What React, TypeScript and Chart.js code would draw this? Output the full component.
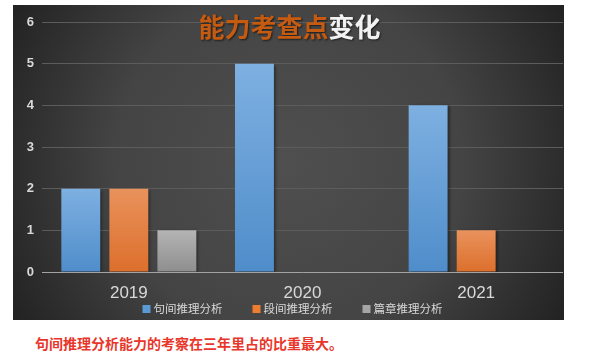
import React, { useEffect, useRef } from "react";
import { Chart, registerables } from "chart.js";

Chart.register(...registerables);

const categories = ["2019", "2020", "2021"];
const seriesNames = ["句间推理分析", "段间推理分析", "篇章推理分析"];
const sentenceValues = [2, 5, 4];
const paragraphValues = [2, null, 1];
const chapterValues = [1, null, null];
const yTicks = [0, 1, 2, 3, 4, 5, 6];
const titleOrange = "能力考查点";
const titleWhite = "变化";
const caption = "句间推理分析能力的考察在三年里占的比重最大。";

const solidColors = ["#5b9bd5", "#ed7d31", "#a5a5a5"];
const gradTop = ["#7eb0e1", "#e9925c", "#b4b4b4"];
const gradBottom = ["#4f8dca", "#dc6f2c", "#8e8e8e"];

const LATIN = "'Liberation Sans', 'Noto Sans CJK SC', sans-serif";
const CJK = "'Noto Sans CJK SC', 'Liberation Sans', sans-serif";

function barGradient(i: number) {
  return (ctx: any) => {
    const chart = ctx.chart;
    const ys = chart.scales && chart.scales.y;
    if (!ys || ctx.raw == null || !chart.chartArea) return solidColors[i];
    const top = ys.getPixelForValue(ctx.raw);
    const bottom = ys.getPixelForValue(0);
    if (!isFinite(top) || !isFinite(bottom) || top === bottom) return solidColors[i];
    const g = chart.ctx.createLinearGradient(0, top, 0, bottom);
    g.addColorStop(0, gradTop[i]);
    g.addColorStop(1, gradBottom[i]);
    return g;
  };
}

const bgPlugin = {
  id: "bgPlugin",
  beforeDraw(chart: any) {
    const { ctx, width, height } = chart;
    ctx.save();
    const cx = width * 0.5;
    const cy = height * 0.5;
    const r = Math.sqrt(cx * cx + cy * cy);
    const g = ctx.createRadialGradient(cx, cy, 0, cx, cy, r);
    g.addColorStop(0, "#4f4f4f");
    g.addColorStop(0.55, "#444444");
    g.addColorStop(1, "#222222");
    ctx.fillStyle = g;
    ctx.fillRect(0, 0, width, height);
    ctx.restore();
  },
};

const shadowPlugin = {
  id: "shadowPlugin",
  beforeDatasetsDraw(chart: any) {
    const ctx = chart.ctx;
    ctx.save();
    ctx.shadowColor = "rgba(0,0,0,0.45)";
    ctx.shadowBlur = 3;
    ctx.shadowOffsetX = 2;
    ctx.shadowOffsetY = 1;
  },
  afterDatasetsDraw(chart: any) {
    chart.ctx.restore();
  },
};

const overlayPlugin = {
  id: "overlayPlugin",
  afterDraw(chart: any) {
    const { ctx, width, chartArea } = chart;
    // title
    ctx.save();
    ctx.font = `bold 26px ${CJK}`;
    ctx.textBaseline = "middle";
    ctx.textAlign = "left";
    const w1 = ctx.measureText(titleOrange).width;
    const w2 = ctx.measureText(titleWhite).width;
    let x = width / 2 + 1 - (w1 + w2) / 2;
    const y = 22;
    ctx.shadowColor = "rgba(0,0,0,0.6)";
    ctx.shadowBlur = 2;
    ctx.shadowOffsetX = 1;
    ctx.shadowOffsetY = 1;
    ctx.fillStyle = "#c55a11";
    ctx.fillText(titleOrange, x, y);
    ctx.fillStyle = "#f2f2f2";
    ctx.fillText(titleWhite, x + w1, y);
    ctx.restore();

    // legend
    ctx.save();
    ctx.font = `11.5px ${CJK}`;
    ctx.textBaseline = "middle";
    ctx.textAlign = "left";
    const box = 8;
    const gapText = 3;
    const gapItem = 30;
    const datasets = chart.data.datasets;
    const widths = datasets.map((d: any) => box + gapText + ctx.measureText(d.label).width);
    const total = widths.reduce((a: number, b: number) => a + b, 0) + gapItem * (datasets.length - 1);
    const center = (chartArea.left + chartArea.right) / 2 - 10;
    let lx = center - total / 2;
    const ly = 304;
    datasets.forEach((d: any, i: number) => {
      ctx.fillStyle = solidColors[i];
      ctx.fillRect(lx, ly - 4, box, box);
      ctx.fillStyle = "#d9d9d9";
      ctx.fillText(d.label, lx + box + gapText, ly);
      lx += widths[i] + gapItem;
    });
    ctx.restore();
  },
};

export default function App() {
  const canvasRef = useRef<HTMLCanvasElement | null>(null);

  useEffect(() => {
    if (!canvasRef.current) return;
    const valuesList = [sentenceValues, paragraphValues, chapterValues];
    const chart = new Chart(canvasRef.current, {
      type: "bar",
      data: {
        labels: categories,
        datasets: valuesList.map((vals, i) => ({
          label: seriesNames[i],
          data: vals,
          backgroundColor: barGradient(i),
          borderWidth: 0,
          categoryPercentage: 0.83,
          barPercentage: 0.81,
        })),
      },
      options: {
        responsive: false,
        maintainAspectRatio: false,
        animation: false,
        layout: { padding: { top: 17, right: 1, left: 0, bottom: 0 } },
        plugins: {
          legend: { display: false },
          title: { display: false },
          tooltip: { enabled: false },
        },
        scales: {
          x: {
            grid: { display: false, drawTicks: false },
            border: { display: false },
            ticks: {
              color: "#d9d9d9",
              font: { family: LATIN, size: 17 },
              padding: 11,
            },
            afterFit(scale: any) {
              scale.height = 48;
            },
          },
          y: {
            min: 0,
            max: 6,
            afterBuildTicks(scale: any) {
              scale.ticks = yTicks.map((v) => ({ value: v }));
            },
            grid: {
              drawTicks: false,
              color: (ctx: any) => (ctx.tick && ctx.tick.value === 0 ? "#a3a3a3" : "#5c5c5c"),
              lineWidth: 1,
            },
            border: { display: false },
            ticks: {
              color: "#d9d9d9",
              font: { family: LATIN, size: 13, weight: "bold" },
              padding: 8,
            },
            afterFit(scale: any) {
              scale.width = 29;
            },
          },
        },
      },
      plugins: [bgPlugin, shadowPlugin, overlayPlugin],
    } as any);
    return () => chart.destroy();
  }, []);

  return (
    <div style={{ position: "fixed", left: 0, top: 0, width: 589, height: 358, background: "#ffffff" }}>
      <div style={{ position: "absolute", left: 13, top: 5, width: 551, height: 315 }}>
        <canvas ref={canvasRef} width={551} height={315} style={{ display: "block" }} />
      </div>
      <div
        style={{
          position: "absolute",
          left: 35,
          top: 333,
          fontFamily: CJK,
          fontWeight: "bold",
          fontSize: 14,
          lineHeight: "20px",
          color: "#e8362b",
          whiteSpace: "nowrap",
        }}
      >
        {caption}
      </div>
    </div>
  );
}
